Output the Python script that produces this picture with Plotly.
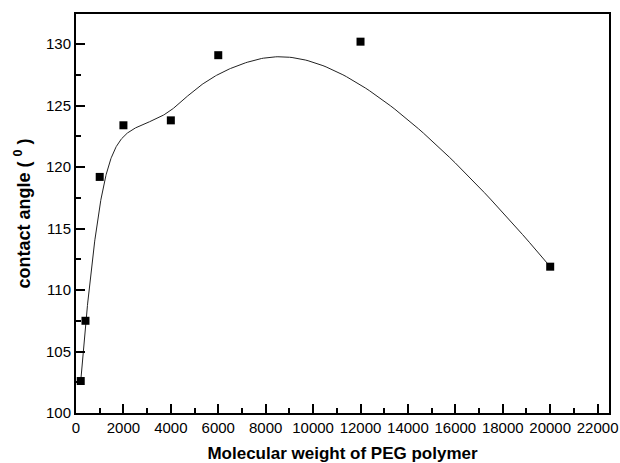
import numpy as np
import plotly.graph_objects as go

# PEG molecular weight vs. measured contact angle
mol_weight = [200, 400, 1000, 2000, 4000, 6000, 12000, 20000]
contact_angle = [102.6, 107.5, 119.2, 123.4, 123.8, 129.1, 130.2, 111.9]

x_ticks = list(range(0, 22001, 2000))
y_ticks = [100, 105, 110, 115, 120, 125, 130]


def bspline_curve(px, py, degree=3, samples=400):
    """Clamped uniform B-spline using the data points as control points."""
    px = np.asarray(px, float)
    py = np.asarray(py, float)
    n = len(px)
    inner = n - degree - 1
    knots = np.concatenate([np.zeros(degree + 1),
                            np.arange(1, inner + 1),
                            np.full(degree + 1, inner + 1)])

    def basis(i, k, t):
        if k == 0:
            if knots[i] <= t < knots[i + 1]:
                return 1.0
            if t == knots[-1] and knots[i] < t <= knots[i + 1]:
                return 1.0
            return 0.0
        a = 0.0
        d1 = knots[i + k] - knots[i]
        if d1 > 0:
            a = (t - knots[i]) / d1 * basis(i, k - 1, t)
        b = 0.0
        d2 = knots[i + k + 1] - knots[i + 1]
        if d2 > 0:
            b = (knots[i + k + 1] - t) / d2 * basis(i + 1, k - 1, t)
        return a + b

    ts = np.linspace(knots[0], knots[-1], samples)
    cx, cy = [], []
    for t in ts:
        w = np.array([basis(i, degree, t) for i in range(n)])
        cx.append(float(w @ px))
        cy.append(float(w @ py))
    return cx, cy


curve_x, curve_y = bspline_curve(mol_weight, contact_angle)

fig = go.Figure()
fig.add_trace(go.Scatter(
    x=curve_x, y=curve_y, mode="lines",
    line=dict(color="#222222", width=1),
    hoverinfo="skip", showlegend=False,
))
fig.add_trace(go.Scatter(
    x=mol_weight, y=contact_angle, mode="markers",
    marker=dict(symbol="square", size=8, color="black"),
    showlegend=False,
))

family = "Liberation Sans, Arial, sans-serif"
tick_font = dict(family=family, size=15, color="black")

fig.update_xaxes(
    range=[0, 22480], tickvals=x_ticks, ticktext=[str(v) for v in x_ticks],
    ticks="inside", ticklen=9, tickwidth=1.5, tickcolor="black",
    minor=dict(ticks="inside", ticklen=5, tickwidth=1.5, tickcolor="black", dtick=1000),
    showline=True, linecolor="black", linewidth=2, mirror=True,
    showgrid=False, zeroline=False, tickfont=tick_font, automargin=False,
    title=dict(text="<b>Molecular weight of PEG polymer</b>",
               font=dict(family=family, size=17, color="black"), standoff=14),
)
fig.update_yaxes(
    range=[100, 132.45], tickvals=y_ticks,
    ticks="inside", ticklen=9, tickwidth=1.5, tickcolor="black",
    minor=dict(ticks="inside", ticklen=5, tickwidth=1.5, tickcolor="black", dtick=2.5),
    showline=True, linecolor="black", linewidth=2, mirror=True,
    showgrid=False, zeroline=False, tickfont=tick_font, automargin=False,
    title=dict(text="<b>contact angle ( <sup>0</sup> )</b>",
               font=dict(family=family, size=18, color="black"), standoff=11),
)

fig.update_layout(
    width=620, height=463,
    margin=dict(l=76, r=11, t=14, b=50),
    paper_bgcolor="white", plot_bgcolor="white",
)

fig.write_html("out.html")
